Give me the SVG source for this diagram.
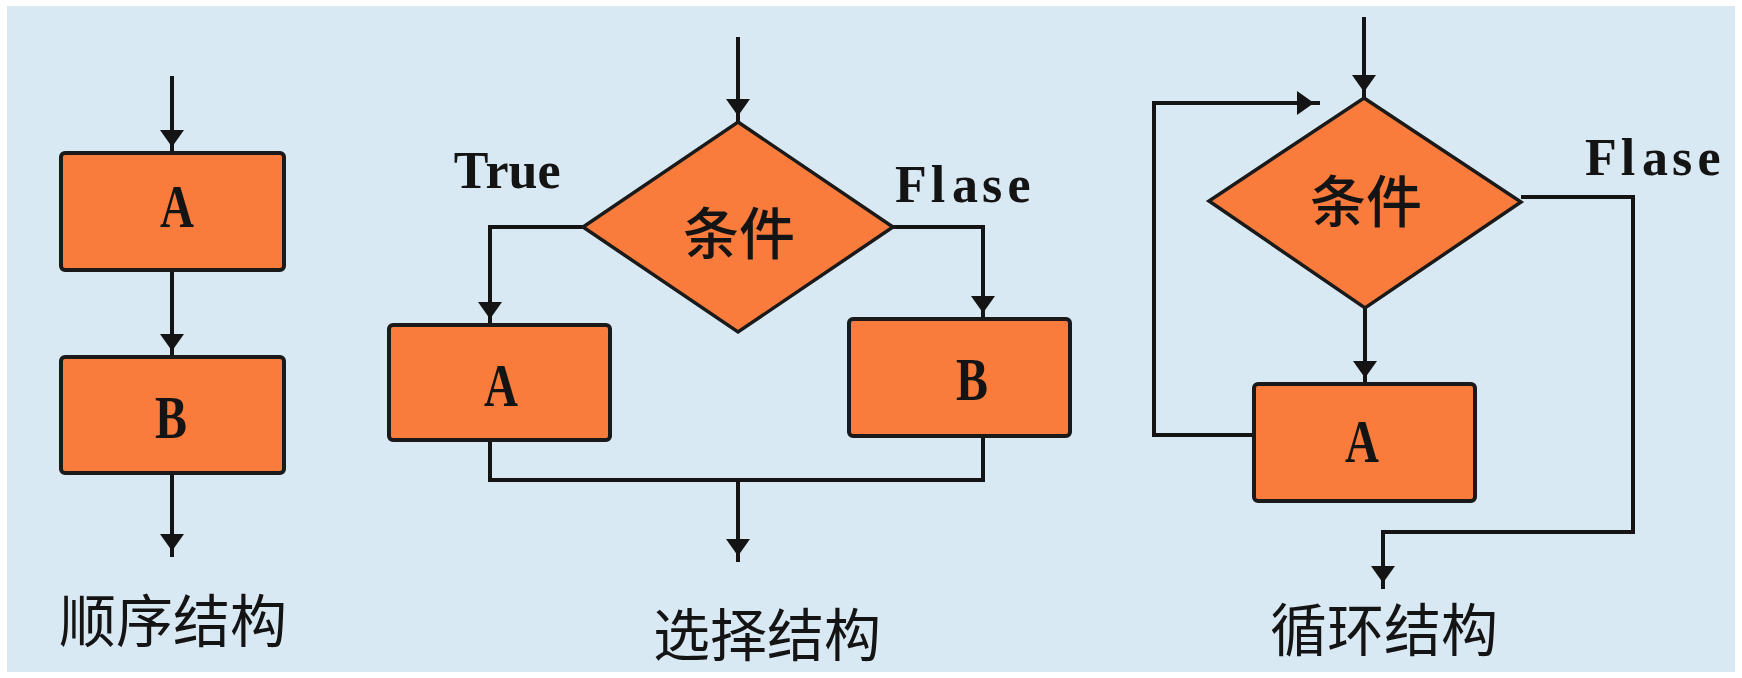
<svg xmlns="http://www.w3.org/2000/svg" width="1742" height="678" viewBox="0 0 1742 678">
  <defs>
    <marker id="arrow" markerUnits="userSpaceOnUse" markerWidth="26" markerHeight="26" refX="23" refY="12" orient="auto" overflow="visible">
      <path d="M0,0 L17,12 L0,24 Z" fill="#141414"/>
    </marker>
    <style>
      .bg { fill: #d9e9f4; }
      .box { fill: #f97c3c; stroke: #1a1a1a; stroke-width: 4; }
      .dia { fill: #f97c3c; stroke: #1a1a1a; stroke-width: 3.5; stroke-linejoin: miter; }
      .wire { fill: none; stroke: #141414; stroke-width: 4; }
      .serif { font-family: "Liberation Serif", "DejaVu Serif", serif; font-weight: bold; fill: #141414; text-anchor: middle; }
      .cjk { font-family: "Noto Sans CJK SC", "Noto Sans", sans-serif; fill: #141414; }
      .cond { font-size: 56px; font-weight: 500; text-anchor: middle; }
      .title { font-size: 57px; text-anchor: middle; }
      .letter { font-size: 62px; }
      .flag { font-size: 52px; }
    </style>
  </defs>

  <rect x="0" y="0" width="1742" height="678" fill="#ffffff"/>
  <rect class="bg" x="7" y="6" width="1728" height="666"/>

  <!-- connectors -->
  <g id="connectors" class="wire">
    <!-- sequence -->
    <path d="M172,76 V153" marker-end="url(#arrow)"/>
    <path d="M172,270 V357" marker-end="url(#arrow)"/>
    <path d="M172,473 V557" marker-end="url(#arrow)"/>
    <!-- selection -->
    <path d="M738,37 V122" marker-end="url(#arrow)"/>
    <path d="M583,227 H490 V325" marker-end="url(#arrow)"/>
    <path d="M893,227 H983 V319" marker-end="url(#arrow)"/>
    <path d="M490,440 V480 H983 V436"/>
    <path d="M738,480 V562" marker-end="url(#arrow)"/>
    <!-- loop -->
    <path d="M1364,17 V98" marker-end="url(#arrow)"/>
    <path d="M1365,308 V384" marker-end="url(#arrow)"/>
    <path d="M1254,435 H1154 V103 H1320" marker-end="url(#arrow)"/>
    <path d="M1521,197 H1633 V532 H1383 V589" marker-end="url(#arrow)"/>
  </g>

  <!-- sequence structure -->
  <g id="seq-a">
    <rect class="box" x="61" y="153" width="223" height="117" rx="4"/>
    <text class="serif letter" x="177" y="227" textLength="34" lengthAdjust="spacingAndGlyphs">A</text>
  </g>
  <g id="seq-b">
    <rect class="box" x="61" y="357" width="223" height="116" rx="4"/>
    <text class="serif letter" x="171" y="438" textLength="32" lengthAdjust="spacingAndGlyphs">B</text>
  </g>
  <text id="seq-title" class="cjk title" x="173" y="642">顺序结构</text>

  <!-- selection structure -->
  <g id="sel-cond">
    <path class="dia" d="M738,122 L893,227 L738,332 L583,227 Z"/>
    <text class="cjk cond" x="739" y="254">条件</text>
  </g>
  <g id="sel-a">
    <rect class="box" x="389" y="325" width="221" height="115" rx="4"/>
    <text class="serif letter" x="501" y="406" textLength="34" lengthAdjust="spacingAndGlyphs">A</text>
  </g>
  <g id="sel-b">
    <rect class="box" x="849" y="319" width="221" height="117" rx="4"/>
    <text class="serif letter" x="972" y="400" textLength="32" lengthAdjust="spacingAndGlyphs">B</text>
  </g>
  <!-- monospaced cell layout for the branch labels -->
  <text id="sel-true" class="serif flag" x="471 497 523 549" y="188">True</text>
  <text id="sel-false" class="serif flag" x="911 938 965 992 1019" y="202">Flase</text>
  <text id="sel-title" class="cjk title" x="767" y="656">选择结构</text>

  <!-- loop structure -->
  <g id="loop-cond">
    <path class="dia" d="M1364,98 L1521,202 L1365,308 L1209,201 Z"/>
    <text class="cjk cond" x="1366" y="222">条件</text>
  </g>
  <g id="loop-a">
    <rect class="box" x="1254" y="384" width="221" height="117" rx="4"/>
    <text class="serif letter" x="1362" y="462" textLength="34" lengthAdjust="spacingAndGlyphs">A</text>
  </g>
  <text id="loop-false" class="serif flag" x="1601 1628 1655 1682 1709" y="175">Flase</text>
  <text id="loop-title" class="cjk title" x="1384" y="651">循环结构</text>
</svg>
